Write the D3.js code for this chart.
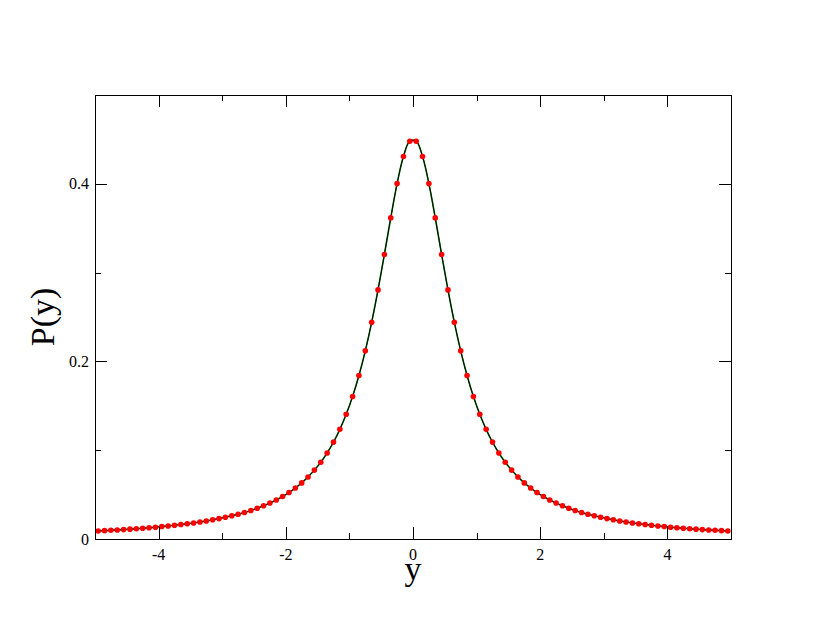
<!DOCTYPE html>
<html lang="en">
<head>
<meta charset="utf-8">
<title>P(y)</title>
<style>
  body { margin: 0; background: #fff; }
</style>
</head>
<body>
<svg width="822" height="635"></svg>
<script src="https://d3js.org/d3.v7.min.js"></script>
<script>
// sample positions (step 0.1, offset 0.05)
var xs = [-4.95,-4.85,-4.75,-4.65,-4.55,-4.45,-4.35,-4.25,-4.15,-4.05,
          -3.95,-3.85,-3.75,-3.65,-3.55,-3.45,-3.35,-3.25,-3.15,-3.05,
          -2.95,-2.85,-2.75,-2.65,-2.55,-2.45,-2.35,-2.25,-2.15,-2.05,
          -1.95,-1.85,-1.75,-1.65,-1.55,-1.45,-1.35,-1.25,-1.15,-1.05,
          -0.95,-0.85,-0.75,-0.65,-0.55,-0.45,-0.35,-0.25,-0.15,-0.05,
          0.05,0.15,0.25,0.35,0.45,0.55,0.65,0.75,0.85,0.95,
          1.05,1.15,1.25,1.35,1.45,1.55,1.65,1.75,1.85,1.95,
          2.05,2.15,2.25,2.35,2.45,2.55,2.65,2.75,2.85,2.95,
          3.05,3.15,3.25,3.35,3.45,3.55,3.65,3.75,3.85,3.95,
          4.05,4.15,4.25,4.35,4.45,4.55,4.65,4.75,4.85,4.95];

var py = [0.0090,0.0094,0.0098,0.0102,0.0106,0.0111,0.0116,0.0121,0.0127,0.0133,
          0.0140,0.0147,0.0155,0.0163,0.0172,0.0181,0.0192,0.0203,0.0216,0.0230,
          0.0245,0.0261,0.0279,0.0299,0.0321,0.0346,0.0374,0.0405,0.0439,0.0479,
          0.0523,0.0574,0.0632,0.0699,0.0776,0.0865,0.0969,0.1091,0.1235,0.1405,
          0.1605,0.1841,0.2119,0.2440,0.2805,0.3204,0.3616,0.4002,0.4308,0.4480,
          0.4480,0.4308,0.4002,0.3616,0.3204,0.2805,0.2440,0.2119,0.1841,0.1605,
          0.1405,0.1235,0.1091,0.0969,0.0865,0.0776,0.0699,0.0632,0.0574,0.0523,
          0.0479,0.0439,0.0405,0.0374,0.0346,0.0321,0.0299,0.0279,0.0261,0.0245,
          0.0230,0.0216,0.0203,0.0192,0.0181,0.0172,0.0163,0.0155,0.0147,0.0140,
          0.0133,0.0127,0.0121,0.0116,0.0111,0.0106,0.0102,0.0098,0.0094,0.0090];

var xMajor = [-4, -2, 0, 2, 4],
    xMinor = [-3, -1, 1, 3],
    yMajor = [0, 0.2, 0.4],
    yMinor = [0.1, 0.3];

var serif = "'Liberation Serif', 'Times New Roman', serif";

var svg = d3.select("svg");
var pLeft = 95, pRight = 731, pTop = 95, pBottom = 539;

var x = d3.scaleLinear().domain([-5, 5]).range([pLeft, pRight]);
var y = d3.scaleLinear().domain([0, 0.5]).range([pBottom, pTop]);

var pts = xs.map(function(d, i) { return [d, py[i]]; });

// curve: thin green underlay with black line on top
var line = d3.line()
    .x(function(d) { return x(d[0]); })
    .y(function(d) { return y(d[1]); })
    .curve(d3.curveCatmullRom);

svg.append("path").attr("d", line(pts))
   .attr("fill", "none").attr("stroke", "#007000").attr("stroke-width", 1.6);
svg.append("path").attr("d", line(pts))
   .attr("fill", "none").attr("stroke", "#000").attr("stroke-width", 0.9);

svg.selectAll("circle.pt")
   .data(pts).enter()
   .append("circle")
   .attr("class", "pt")
   .attr("cx", function(d) { return x(d[0]); })
   .attr("cy", function(d) { return y(d[1]); })
   .attr("r", 2.8)
   .attr("fill", "#ff0000");

// frame
svg.append("rect")
   .attr("x", pLeft + 0.5).attr("y", pTop + 0.5)
   .attr("width", pRight - pLeft).attr("height", pBottom - pTop)
   .attr("fill", "none").attr("stroke", "#000").attr("stroke-width", 1);

// ticks, inward on all four sides
function tickLen(major) { return major ? 12 : 6; }
var g = svg.append("g").attr("stroke", "#000").attr("stroke-width", 1);
xMajor.map(function(d) { return [d, true]; }).concat(xMinor.map(function(d) { return [d, false]; }))
  .forEach(function(t) {
    var px = Math.round(x(t[0])) + 0.5, L = tickLen(t[1]);
    g.append("line").attr("x1", px).attr("x2", px).attr("y1", pBottom).attr("y2", pBottom - L);
    g.append("line").attr("x1", px).attr("x2", px).attr("y1", pTop).attr("y2", pTop + L);
  });
yMajor.map(function(d) { return [d, true]; }).concat(yMinor.map(function(d) { return [d, false]; }))
  .forEach(function(t) {
    var py2 = Math.round(y(t[0])) + 0.5, L = tickLen(t[1]);
    g.append("line").attr("y1", py2).attr("y2", py2).attr("x1", pLeft).attr("x2", pLeft + L);
    g.append("line").attr("y1", py2).attr("y2", py2).attr("x1", pRight).attr("x2", pRight - L);
  });

// tick labels
svg.selectAll("text.xl")
   .data(xMajor).enter()
   .append("text").attr("class", "xl")
   .attr("font-family", serif).attr("font-size", 16)
   .attr("x", function(d) { return x(d); })
   .attr("y", pBottom + 21)
   .attr("text-anchor", "middle")
   .text(function(d) { return d; });

svg.selectAll("text.yl")
   .data(yMajor).enter()
   .append("text").attr("class", "yl")
   .attr("font-family", serif).attr("font-size", 16)
   .attr("x", pLeft - 6)
   .attr("y", function(d) { return y(d) + 5.5; })
   .attr("text-anchor", "end")
   .text(function(d) { return d; });

// axis titles
svg.append("text")
   .attr("font-family", serif).attr("font-size", 34)
   .attr("x", x(0)).attr("y", pBottom + 41)
   .attr("text-anchor", "middle")
   .text("y");

svg.append("text")
   .attr("font-family", serif).attr("font-size", 34)
   .attr("transform", "translate(54," + ((pTop + pBottom) / 2) + ") rotate(-90)")
   .attr("text-anchor", "middle")
   .text("P(y)");
</script>
</body>
</html>
